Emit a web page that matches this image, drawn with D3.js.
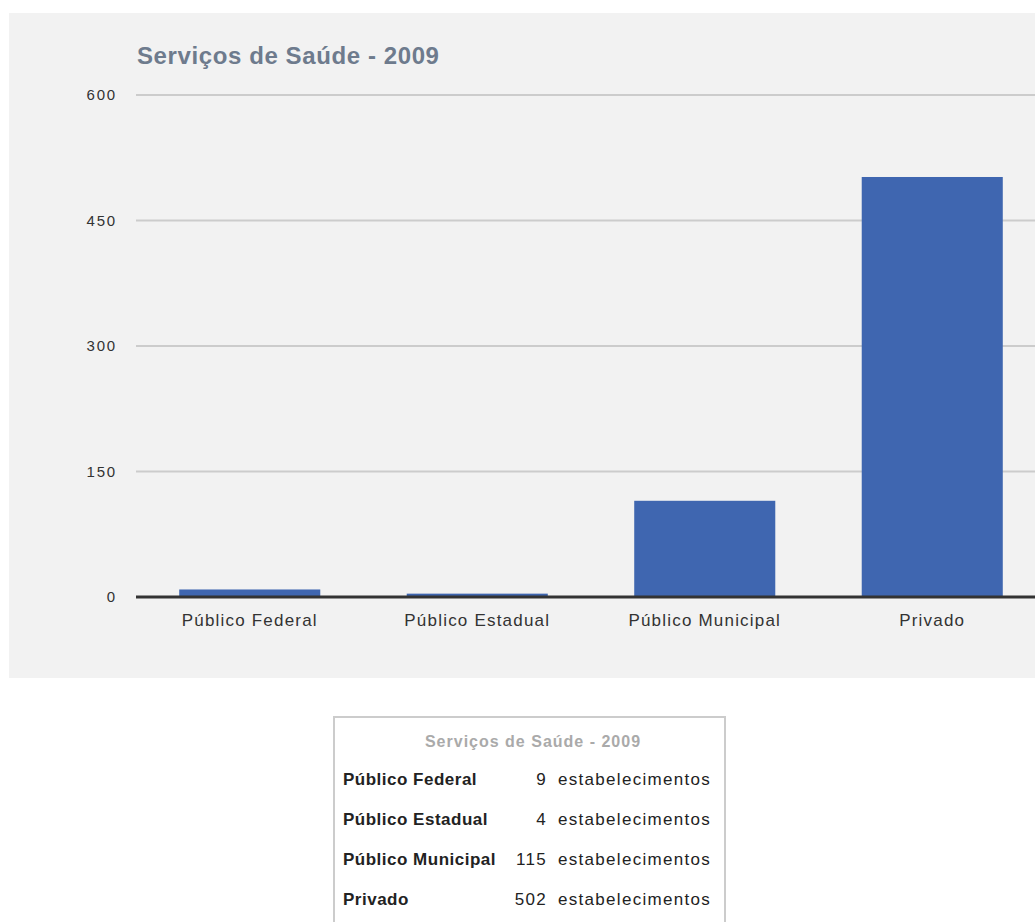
<!DOCTYPE html>
<html lang="pt">
<head>
<meta charset="UTF-8">
<title>Serviços de Saúde - 2009</title>
<style>
  html, body { margin: 0; padding: 0; background: #fff; overflow: hidden; }
  body { width: 1035px; height: 922px; font-family: "Liberation Sans", Arial, sans-serif; }
  svg { display: block; }
  .grid line { stroke: #cccccc; stroke-width: 2px; }
  .ylab { font-size: 15px; letter-spacing: 1.8px; fill: #333; }
  .xlab { font-size: 17px; letter-spacing: 1.2px; fill: #333; }
</style>
</head>
<body>
<svg width="1035" height="922"></svg>
<script src="https://d3js.org/d3.v7.min.js"></script>
<script>
  // dados
  const titulo = "Serviços de Saúde - 2009";
  const categorias = ["Público Federal", "Público Estadual", "Público Municipal", "Privado"];
  const valores = [9, 4, 115, 502];
  const ticks = [0, 150, 300, 450, 600];
  const unidade = "estabelecimentos";

  const svg = d3.select("svg");

  // painel cinza
  svg.append("rect")
    .attr("x", 9).attr("y", 13)
    .attr("width", 1040).attr("height", 665)
    .attr("fill", "#f2f2f2");

  svg.append("text")
    .attr("x", 137).attr("y", 64)
    .attr("font-size", "24px")
    .attr("font-weight", "bold")
    .attr("letter-spacing", "0.6px")
    .attr("fill", "#6e7b8d")
    .text(titulo);

  const y = d3.scaleLinear().domain([0, 600]).range([597, 95]);
  const x = d3.scaleBand().domain(categorias)
    .range([136, 1046]).paddingInner(0.38).paddingOuter(0.19);

  // grade
  const grid = svg.append("g").attr("class", "grid");
  grid.selectAll("line")
    .data(ticks.filter(d => d > 0))
    .enter().append("line")
    .attr("x1", 136).attr("x2", 1035)
    .attr("y1", d => y(d)).attr("y2", d => y(d));

  svg.selectAll(".ylab")
    .data(ticks)
    .enter().append("text")
    .attr("class", "ylab")
    .attr("x", 117)
    .attr("y", d => y(d))
    .attr("dy", "0.35em")
    .attr("text-anchor", "end")
    .text(d => d);

  // barras
  svg.selectAll(".bar")
    .data(valores)
    .enter().append("rect")
    .attr("class", "bar")
    .attr("x", (d, i) => x(categorias[i]))
    .attr("width", x.bandwidth())
    .attr("y", d => y(d))
    .attr("height", d => y(0) - y(d))
    .attr("fill", "#3f66b0");

  // eixo
  svg.append("line")
    .attr("x1", 136).attr("x2", 1035)
    .attr("y1", y(0)).attr("y2", y(0))
    .attr("stroke", "#333").attr("stroke-width", 3);

  svg.selectAll(".xlab")
    .data(categorias)
    .enter().append("text")
    .attr("class", "xlab")
    .attr("x", d => x(d) + x.bandwidth() / 2)
    .attr("y", 626)
    .attr("text-anchor", "middle")
    .text(d => d);

  // tabela
  const tab = svg.append("g");
  tab.append("rect")
    .attr("x", 334).attr("y", 717)
    .attr("width", 391).attr("height", 230)
    .attr("fill", "#fff")
    .attr("stroke", "#cccccc").attr("stroke-width", 2);

  tab.append("text")
    .attr("x", 533).attr("y", 747)
    .attr("text-anchor", "middle")
    .attr("font-size", "16px")
    .attr("font-weight", "bold")
    .attr("letter-spacing", "1px")
    .attr("fill", "#aaaaaa")
    .text(titulo);

  const rowY = d3.scalePoint().domain(categorias).range([785, 905]);
  const rows = tab.selectAll(".row")
    .data(categorias)
    .enter().append("g")
    .attr("transform", d => `translate(0,${rowY(d)})`);

  rows.append("text")
    .attr("x", 343)
    .attr("font-size", "17px")
    .attr("font-weight", "bold")
    .attr("letter-spacing", "0.5px")
    .attr("fill", "#222")
    .text(d => d);

  rows.append("text")
    .attr("x", 547)
    .attr("text-anchor", "end")
    .attr("font-size", "17px")
    .attr("letter-spacing", "1.3px")
    .attr("fill", "#222")
    .text((d, i) => valores[i]);

  rows.append("text")
    .attr("x", 558)
    .attr("font-size", "17px")
    .attr("letter-spacing", "1.3px")
    .attr("fill", "#222")
    .text(unidade);
</script>
</body>
</html>
